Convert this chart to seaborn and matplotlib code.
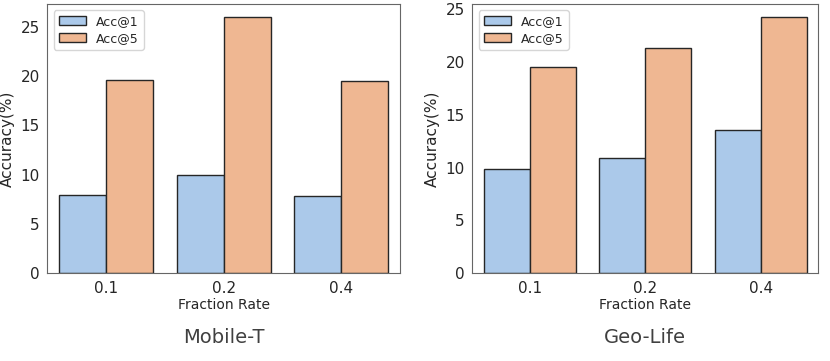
import pandas as pd
import matplotlib
matplotlib.use('Agg')
import matplotlib.pyplot as plt
import seaborn as sns

# Veriler
rates = ['0.1', '0.2', '0.4']
mobile_acc1 = [7.9, 10.0, 7.8]
mobile_acc5 = [19.6, 26.05, 19.5]
geo_acc1 = [9.9, 10.9, 13.6]
geo_acc5 = [19.5, 21.35, 24.3]

def make_df(acc1, acc5):
    return pd.DataFrame({
        'Fraction Rate': rates * 2,
        'Accuracy': acc1 + acc5,
        'Metric': ['Acc@1'] * 3 + ['Acc@5'] * 3,
    })

sns.set_style('white')
pal = sns.color_palette('pastel')

fig = plt.figure(figsize=(8.3, 3.61), dpi=100)
ax1 = fig.add_axes([0.057, 0.244, 0.425, 0.745])
ax2 = fig.add_axes([0.569, 0.244, 0.417, 0.745])

for ax, (a1, a5), title in [(ax1, (mobile_acc1, mobile_acc5), 'Mobile-T'),
                            (ax2, (geo_acc1, geo_acc5), 'Geo-Life')]:
    sns.barplot(data=make_df(a1, a5), x='Fraction Rate', y='Accuracy', hue='Metric',
                palette=pal[:2], edgecolor='0.15', linewidth=1, ax=ax)
    ax.set_ylabel('Accuracy(%)', fontsize=11)
    ax.set_xlabel('Fraction Rate', fontsize=10, labelpad=2)
    ax.tick_params(axis='both', labelsize=11, pad=2)
    for s in ax.spines.values():
        s.set_color('0.4')
    ax.legend(loc='upper left', fontsize=9, frameon=True, handlelength=2.2,
              borderpad=0.4, labelspacing=0.3)
    ax.text(0.5, -0.24, title, transform=ax.transAxes, ha='center', va='center',
            fontsize=14, color='0.25')

plt.savefig('out.png', dpi=100)
